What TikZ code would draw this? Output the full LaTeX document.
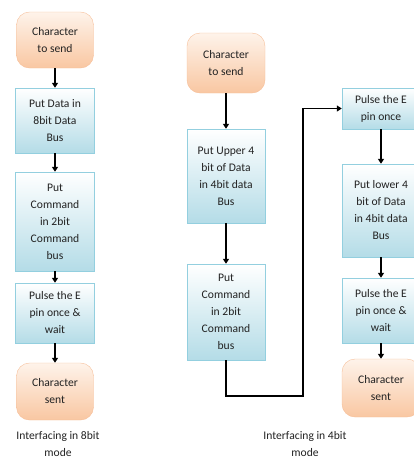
\documentclass[tikz,border=0pt]{standalone}
\usepackage{fontspec}
\setmainfont{Carlito}
\usepackage{tikz}
\usetikzlibrary{arrows.meta}
\definecolor{termtop}{HTML}{FEF3EA}
\definecolor{termbot}{HTML}{F9C7A2}
\definecolor{termline}{HTML}{F6BE98}
\definecolor{boxtop}{HTML}{FFFFFF}
\definecolor{boxbot}{HTML}{B4DCE7}
\definecolor{boxline}{HTML}{93CFDF}
\definecolor{inktext}{HTML}{222222}

\begin{document}
\begin{tikzpicture}[x=1pt, y=-1pt,
	txt/.style={text=inktext, align=center, font=\fontsize{11.6}{17}\selectfont},
	term/.style={txt, draw=termline, top color=termtop, bottom color=termbot, rounded corners=13pt, minimum width=77pt, inner sep=0pt},
	stepbox/.style={txt, draw=boxline, top color=boxtop, bottom color=boxbot, minimum width=79pt, inner sep=0pt},
	flow/.style={line width=1.5pt, -{Triangle[length=5pt, width=6pt]}}]
	\useasboundingbox (0,0) rectangle (414,459);
	\clip (0,0) rectangle (414,459);
	% 8bit mode
	\node [term, minimum height=56pt] (Start_8) at (55,40) {Character\\to send};
	\node [stepbox, minimum height=65pt] (Data_8) at (55,120.5) {Put Data in\\8bit Data\\Bus};
	\node [stepbox, minimum height=99pt] (Command_8) at (55,221.5) {Put\\Command\\in 2bit\\Command\\bus};
	\node [stepbox, minimum height=60pt] (Pulse_8) at (55,313) {Pulse the E\\pin once \&\\wait};
	\node [term, minimum height=57pt] (Sent_8) at (55,391.5) {Character\\sent};
	\node [txt] (Label_8) at (58,444) {Interfacing in 8bit\\mode};
	\draw [flow] (Start_8) -- (Data_8);
	\draw [flow] (Data_8) -- (Command_8);
	\draw [flow] (Command_8) -- (Pulse_8);
	\draw [flow] (Pulse_8) -- (Sent_8);
	% 4bit mode
	\node [term, minimum height=60pt, minimum width=78pt] (Start_4) at (226,63) {Character\\to send};
	\node [stepbox, minimum height=94pt, minimum width=78pt] (Upper_4) at (226,176) {Put Upper 4\\bit of Data\\in 4bit data\\Bus};
	\node [stepbox, minimum height=96pt, minimum width=78pt] (Command_4) at (226,312) {Put\\Command\\in 2bit\\Command\\bus};
	\node [stepbox, minimum height=41pt, minimum width=78pt] (Pulse_4) at (381,108.5) {Pulse the E\\pin once};
	\node [stepbox, minimum height=93pt, minimum width=78pt] (Lower_4) at (381,210.5) {Put lower 4\\bit of Data\\in 4bit data\\Bus};
	\node [stepbox, minimum height=65pt, minimum width=78pt] (Wait_4) at (381,310.5) {Pulse the E\\pin once \&\\wait};
	\node [term, minimum height=58pt, minimum width=78pt] (Sent_4) at (381,388) {Character\\sent};
	\node [txt] (Label_4) at (305,444) {Interfacing in 4bit\\mode};
	\coordinate (Turn_1) at (226,396);
	\coordinate (Turn_2) at (303,396);
	\coordinate (Turn_3) at (303,108.5);
	\draw [flow] (Start_4) -- (Upper_4);
	\draw [flow] (Upper_4) -- (Command_4);
	\draw [flow] (Command_4.south) -- (Turn_1) -- (Turn_2) -- (Turn_3) -- (Pulse_4.west);
	\draw [flow] (Pulse_4) -- (Lower_4);
	\draw [flow] (Lower_4) -- (Wait_4);
	\draw [flow] (Wait_4) -- (Sent_4);
\end{tikzpicture}
\end{document}
